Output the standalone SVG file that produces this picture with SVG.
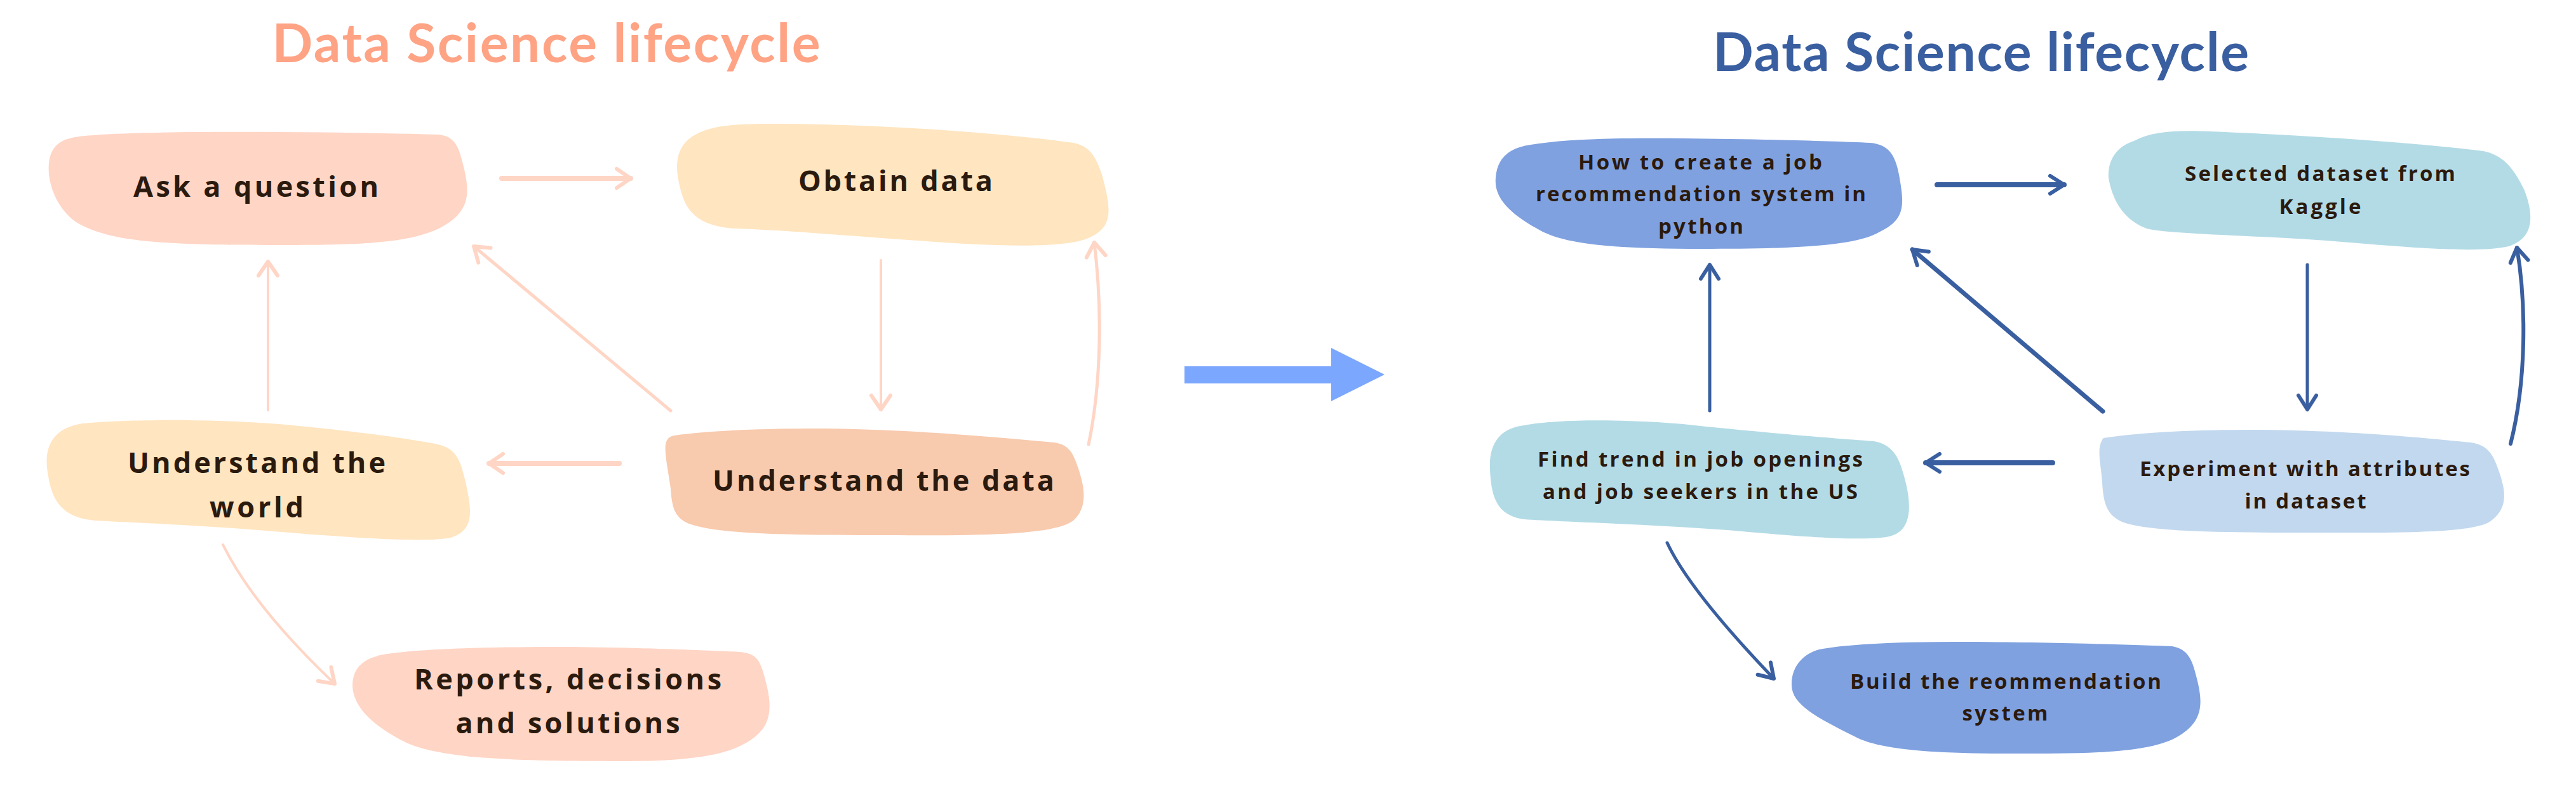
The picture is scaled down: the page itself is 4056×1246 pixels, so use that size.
<svg xmlns="http://www.w3.org/2000/svg" width="4056" height="1246" viewBox="0 0 4056 1246">
  <style>
    .title { font-family: Lato, "Open Sans", "Liberation Sans", sans-serif; font-weight: 700; font-size: 84px; }
    .lt { font-family: "Open Sans", Lato, "Liberation Sans", sans-serif; font-weight: 700; font-size: 45px; fill: #2B1A0E; text-anchor: middle; }
    .rt { font-family: "Open Sans", Lato, "Liberation Sans", sans-serif; font-weight: 700; font-size: 33px; fill: #2B1A0E; text-anchor: middle; }
    .cl { fill: none; stroke: #FFD5C5; stroke-linecap: round; }
    .cr { fill: none; stroke: #3A5FA0; stroke-linecap: round; }
  </style>
  <defs>
    <marker id="arrL" markerUnits="userSpaceOnUse" viewBox="-30 -20 40 40" markerWidth="40" markerHeight="40" refX="0" refY="0" orient="auto" overflow="visible">
      <path d="M -22 -15 L 0 0 L -22 15" fill="none" stroke="#FFD5C5" stroke-width="6" stroke-linecap="round" stroke-linejoin="round"/>
    </marker>
    <marker id="arrR" markerUnits="userSpaceOnUse" viewBox="-30 -20 40 40" markerWidth="40" markerHeight="40" refX="0" refY="0" orient="auto" overflow="visible">
      <path d="M -22 -14 L 0 0 L -22 14" fill="none" stroke="#3A5FA0" stroke-width="6" stroke-linecap="round" stroke-linejoin="round"/>
    </marker>
  </defs>
  <rect width="4056" height="1246" fill="#FFFFFF"/>

  <text class="title" x="860" y="98" fill="#FFA385" text-anchor="middle" textLength="863">Data Science lifecycle</text>
  <text class="title" x="3119" y="112" fill="#3A5FA0" text-anchor="middle" textLength="844">Data Science lifecycle</text>

  <g id="connectors">
    <path class="cl" stroke-width="8" d="M 790 281 L 993 281" marker-end="url(#arrL)"/>
    <path class="cl" stroke-width="4" d="M 1387 410 L 1387 645" marker-end="url(#arrL)"/>
    <path class="cl" stroke-width="5" d="M 1056 647 L 746 388" marker-end="url(#arrL)"/>
    <path class="cl" stroke-width="8" d="M 975 730 L 770 730" marker-end="url(#arrL)"/>
    <path class="cl" stroke-width="4" d="M 422 646 L 422 412" marker-end="url(#arrL)"/>
    <path class="cl" stroke-width="5" d="M 1714 700 C 1735 600, 1735 480, 1723 382" marker-end="url(#arrL)"/>
    <path class="cl" stroke-width="4" d="M 351 858 Q 400 957 527 1077" marker-end="url(#arrL)"/>

    <path class="cr" stroke-width="8" d="M 3050 291 L 3250 291" marker-end="url(#arrR)"/>
    <path class="cr" stroke-width="5" d="M 3633 417 L 3633 645" marker-end="url(#arrR)"/>
    <path class="cr" stroke-width="7" d="M 3311 648 L 3011 393" marker-end="url(#arrR)"/>
    <path class="cr" stroke-width="8" d="M 3232 729 L 3032 729" marker-end="url(#arrR)"/>
    <path class="cr" stroke-width="5" d="M 2692 647 L 2692 417" marker-end="url(#arrR)"/>
    <path class="cr" stroke-width="6" d="M 3953 699 C 3978 600, 3978 480, 3963 390" marker-end="url(#arrR)"/>
    <path class="cr" stroke-width="5" d="M 2625 855 Q 2660 930 2793 1069" marker-end="url(#arrR)"/>

    <polygon points="1865,577 2096,577 2096,548 2180,590 2096,632 2096,604 1865,604" fill="#7BA7FF"/>
  </g>

  <g id="node-ask">
    <path fill="#FFD5C5" d="M 134 214 C 220 205, 500 207, 690 212 C 715 214, 722 230, 728 255 C 740 300, 742 330, 700 355 C 650 385, 560 386, 420 386 C 250 386, 170 380, 120 350 C 85 325, 72 280, 78 250 C 84 225, 100 217, 134 214 Z"/>
    <text class="lt" x="403" y="310" textLength="386">Ask a question</text>
  </g>
  <g id="node-obtain">
    <path fill="#FFE5C0" d="M 1090 215 C 1120 196, 1160 195, 1230 195 C 1400 196, 1580 210, 1690 225 C 1715 230, 1725 245, 1735 275 C 1750 330, 1752 355, 1720 372 C 1690 390, 1600 388, 1520 384 C 1400 377, 1250 363, 1160 360 C 1110 358, 1085 340, 1075 310 C 1062 270, 1060 235, 1090 215 Z"/>
    <text class="lt" x="1410" y="301" textLength="306">Obtain data</text>
  </g>
  <g id="node-understand-data">
    <path fill="#F8CAAE" d="M 1062 686 C 1120 678, 1200 675, 1300 675 C 1450 677, 1580 690, 1660 697 C 1680 700, 1688 710, 1695 730 C 1710 770, 1712 800, 1690 820 C 1660 842, 1560 844, 1400 843 C 1250 843, 1130 842, 1085 825 C 1060 815, 1058 795, 1056 770 C 1052 740, 1046 715, 1048 700 C 1050 690, 1055 687, 1062 686 Z"/>
    <text class="lt" x="1391" y="773" textLength="538">Understand the data</text>
  </g>
  <g id="node-understand-world">
    <path fill="#FFE5C0" d="M 130 667 C 200 660, 330 660, 440 668 C 550 678, 640 690, 690 700 C 718 707, 725 725, 732 755 C 745 810, 745 835, 710 847 C 670 855, 560 848, 420 836 C 300 826, 200 823, 150 820 C 100 816, 82 790, 76 750 C 68 710, 78 675, 130 667 Z"/>
    <text class="lt" x="404" y="745" textLength="406">Understand the</text>
    <text class="lt" x="404" y="815" textLength="148">world</text>
  </g>
  <g id="node-reports">
    <path fill="#FFD5C5" d="M 610 1030 C 680 1020, 800 1019, 900 1019 C 1000 1020, 1100 1024, 1165 1027 C 1190 1029, 1196 1040, 1202 1060 C 1212 1095, 1220 1130, 1195 1155 C 1160 1190, 1090 1199, 980 1199 C 830 1199, 700 1197, 640 1170 C 580 1140, 556 1110, 555 1080 C 555 1050, 575 1035, 610 1030 Z"/>
    <text class="lt" x="894" y="1086" textLength="484">Reports, decisions</text>
    <text class="lt" x="894" y="1155" textLength="353">and solutions</text>
  </g>

  <g id="node-how">
    <path fill="#7FA1E0" d="M 2410 228 C 2470 218, 2560 217, 2650 218 C 2760 219, 2880 222, 2945 225 C 2975 228, 2984 245, 2990 275 C 2998 320, 3002 345, 2960 365 C 2920 390, 2800 392, 2680 392 C 2540 392, 2460 385, 2420 360 C 2375 335, 2352 310, 2355 280 C 2357 250, 2375 233, 2410 228 Z"/>
    <text class="rt" x="2677" y="267" textLength="384">How to create a job</text>
    <text class="rt" x="2678" y="317" textLength="520">recommendation system in</text>
    <text class="rt" x="2678" y="368" textLength="134">python</text>
  </g>
  <g id="node-selected">
    <path fill="#B3DBE6" d="M 3360 222 C 3390 206, 3430 205, 3480 207 C 3600 212, 3780 222, 3910 238 C 3945 245, 3960 270, 3975 300 C 3990 340, 3990 375, 3950 388 C 3905 398, 3820 392, 3700 382 C 3560 370, 3420 370, 3380 360 C 3340 345, 3325 310, 3320 280 C 3318 250, 3335 230, 3360 222 Z"/>
    <text class="rt" x="3653" y="285" textLength="426">Selected dataset from</text>
    <text class="rt" x="3653" y="337" textLength="129">Kaggle</text>
  </g>
  <g id="node-find">
    <path fill="#B3DBE6" d="M 2400 670 C 2450 660, 2560 660, 2650 668 C 2760 680, 2880 690, 2950 695 C 2980 700, 2990 720, 2998 750 C 3012 800, 3010 840, 2970 846 C 2930 852, 2840 846, 2720 835 C 2600 826, 2460 822, 2400 818 C 2355 812, 2348 780, 2346 740 C 2344 700, 2360 675, 2400 670 Z"/>
    <text class="rt" x="2677" y="735" textLength="512">Find trend in job openings</text>
    <text class="rt" x="2677" y="786" textLength="496">and job seekers in the US</text>
  </g>
  <g id="node-experiment">
    <path fill="#C2D8EE" d="M 3312 690 C 3380 680, 3460 677, 3550 677 C 3700 678, 3820 690, 3890 697 C 3915 700, 3925 715, 3932 735 C 3945 770, 3952 800, 3920 822 C 3890 840, 3780 839, 3650 839 C 3500 839, 3400 838, 3350 825 C 3315 815, 3312 790, 3310 760 C 3308 730, 3300 705, 3312 690 Z"/>
    <text class="rt" x="3629" y="750" textLength="520">Experiment with attributes</text>
    <text class="rt" x="3630" y="801" textLength="191">in dataset</text>
  </g>
  <g id="node-build">
    <path fill="#7FA1E0" d="M 2870 1022 C 2930 1012, 3020 1011, 3100 1011 C 3250 1012, 3360 1016, 3420 1018 C 3445 1022, 3452 1040, 3458 1065 C 3470 1110, 3470 1140, 3420 1165 C 3370 1187, 3280 1187, 3170 1187 C 3050 1187, 2960 1182, 2920 1160 C 2860 1130, 2822 1110, 2821 1080 C 2820 1050, 2840 1027, 2870 1022 Z"/>
    <text class="rt" x="3158" y="1085" textLength="490">Build the reommendation</text>
    <text class="rt" x="3157" y="1135" textLength="135">system</text>
  </g>
</svg>
